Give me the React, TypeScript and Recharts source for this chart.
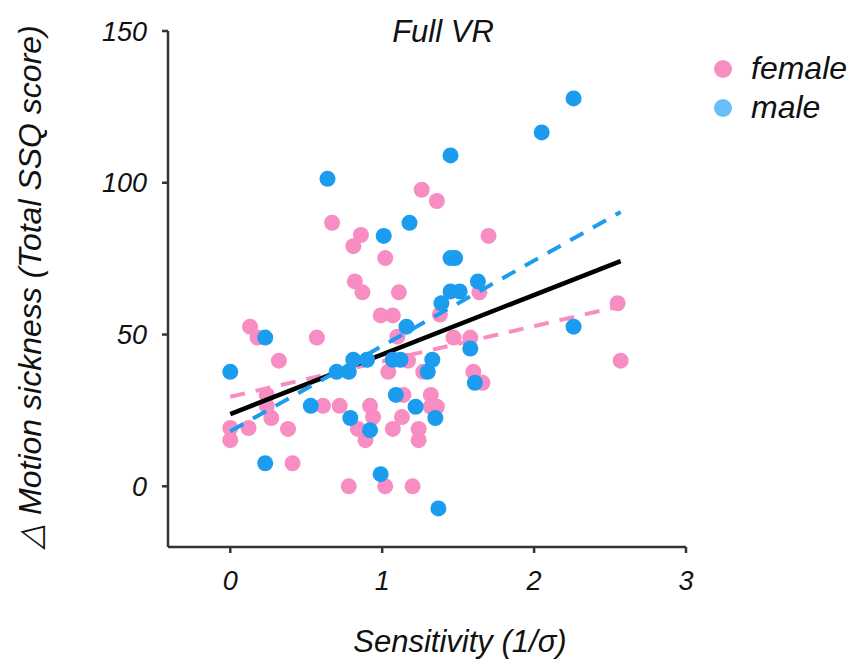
import React from 'react';
import {
  ScatterChart,
  Scatter,
  XAxis,
  YAxis,
} from 'recharts';

// female points (sensitivity, delta SSQ)
const femaleX = [
  0.0, 0.0, 0.12, 0.13, 0.18, 0.24, 0.24, 0.27, 0.32, 0.38, 0.41, 0.57, 0.61, 0.67, 0.72, 0.78,
  0.81, 0.86, 0.82, 0.87, 0.84, 0.89, 0.92, 0.94, 0.99, 1.07, 1.02, 1.02, 1.04, 1.07, 1.1, 1.11,
  1.14, 1.13, 1.17, 1.2, 1.24, 1.24, 1.26, 1.36, 1.27, 1.32, 1.32, 1.36, 1.38, 1.47, 1.58, 1.6,
  1.66, 1.64, 1.7, 2.55, 2.57,
];
const femaleY = [
  19.2, 15.2, 19.2, 52.6, 49.0, 30.1, 26.5, 22.5, 41.4, 18.9, 7.6, 49.0, 26.5, 86.8, 26.5, 0.0,
  79.1, 82.8, 67.5, 63.9, 18.9, 15.2, 26.5, 22.8, 56.3, 56.3, 75.2, 0.0, 37.7, 18.9, 49.3, 63.9,
  30.1, 22.8, 41.4, 0.0, 18.9, 15.2, 97.7, 94.0, 37.7, 30.1, 26.2, 26.2, 56.6, 49.0, 49.0, 37.7,
  34.1, 63.9, 82.5, 60.3, 41.4,
];

// male points
const maleX = [
  0.0, 0.23, 0.23, 0.53, 0.64, 0.7, 0.78, 0.81, 0.9, 0.79, 0.92, 0.99, 1.01, 1.18, 1.07, 1.12,
  1.09, 1.16, 1.22, 1.3, 1.33, 1.35, 1.37, 1.39, 1.45, 1.51, 1.45, 1.48, 1.45, 1.58, 1.61, 1.63,
  2.05, 2.26, 2.26,
];
const maleY = [
  37.7, 49.0, 7.6, 26.5, 101.3, 37.7, 37.7, 41.7, 41.7, 22.5, 18.5, 4.0, 82.5, 86.8, 41.7, 41.7,
  30.1, 52.6, 26.2, 37.7, 41.7, 22.5, -7.3, 60.3, 64.2, 64.2, 75.2, 75.2, 109.0, 45.4, 34.1, 67.5,
  116.6, 127.8, 52.6,
];

// regression fits (endpoints)
const fitX = [0, 2.57];
const fitAllY = [23.8, 74.2];
const fitFemaleY = [29.5, 59.4];
const fitMaleY = [18.1, 90.4];

const xTicks = [0, 1, 2, 3];
const yTicks = [0, 50, 100, 150];

const PINK = '#F78DC3';
const BLUE = '#1B9CEF';
const BLUE_LEGEND = '#66BFF6';
const AXIS = '#333';
const FONT = '"Liberation Sans", Arial, Helvetica, sans-serif';

const zip = (xs: number[], ys: number[]) => xs.map((x, i) => ({ x, y: ys[i] }));

const femaleData = zip(femaleX, femaleY);
const maleData = zip(maleX, maleY);
const fitAll = zip(fitX, fitAllY);
const fitFemale = zip(fitX, fitFemaleY);
const fitMale = zip(fitX, fitMaleY);

const dot = (color: string) => (p: any) => (
  <circle cx={p.cx} cy={p.cy} r={8} fill={color} />
);
const noDot = () => <g />;

const legendItems = [
  { name: 'female', color: PINK },
  { name: 'male', color: BLUE_LEGEND },
];

const tickStyle = { fill: '#111', fontSize: 27, fontStyle: 'italic', fontFamily: FONT };

const App: React.FC = () => {
  return (
    <div style={{ position: 'absolute', left: 0, top: 0, width: 853, height: 662, background: '#fff' }}>
      <div
        style={{
          position: 'absolute',
          left: 343,
          top: 14,
          width: 200,
          textAlign: 'center',
          fontFamily: FONT,
          fontStyle: 'italic',
          fontSize: 31,
          color: '#111',
        }}
      >
        Full VR
      </div>
      {/* legend */}
      <div
        style={{
          position: 'absolute',
          left: 714,
          top: 49,
          fontFamily: FONT,
          fontStyle: 'italic',
          fontSize: 32,
          color: '#111',
        }}
      >
        {legendItems.map((it) => (
          <div key={it.name} style={{ display: 'flex', alignItems: 'center', height: 39 }}>
            <span
              style={{
                display: 'inline-block',
                width: 18,
                height: 18,
                borderRadius: '50%',
                background: it.color,
                marginRight: 19,
              }}
            />
            <span>{it.name}</span>
          </div>
        ))}
      </div>
      <ScatterChart
        width={853}
        height={662}
        margin={{ top: 31, right: 167, bottom: 0, left: 0 }}
      >
        <XAxis
          type="number"
          dataKey="x"
          domain={[-0.41, 3]}
          ticks={xTicks}
          allowDataOverflow
          height={115}
          tick={tickStyle}
          tickSize={6}
          tickMargin={18}
          axisLine={{ stroke: AXIS, strokeWidth: 2.5 }}
          tickLine={{ stroke: AXIS, strokeWidth: 2.5 }}
          label={(props: any) => (
            <text
              x={460}
              y={652}
              textAnchor="middle"
              fill="#111"
              fontSize={31}
              fontStyle="italic"
              fontFamily={FONT}
            >
              Sensitivity (1/σ)
            </text>
          )}
        />
        <YAxis
          type="number"
          dataKey="y"
          domain={[-20, 150]}
          ticks={yTicks}
          allowDataOverflow
          width={168}
          tick={tickStyle}
          tickSize={6}
          tickMargin={15}
          axisLine={{ stroke: AXIS, strokeWidth: 2.5 }}
          tickLine={{ stroke: AXIS, strokeWidth: 2.5 }}
          label={(props: any) => (
            <text
              x={0}
              y={0}
              transform="translate(41, 287) rotate(-90)"
              textAnchor="middle"
              fill="#111"
              fontSize={32}
              fontStyle="italic"
              fontFamily={FONT}
            >
              △ Motion sickness (Total SSQ score)
            </text>
          )}
        />
        <Scatter
          name="female"
          data={femaleData}
          fill={PINK}
          shape={dot(PINK)}
          isAnimationActive={false}
        />
        <Scatter
          name="fit-female"
          data={fitFemale}
          line={{ stroke: PINK, strokeWidth: 4, strokeDasharray: '15 11' }}
          shape={noDot}
          legendType="none"
          isAnimationActive={false}
        />
        <Scatter
          name="fit-all"
          data={fitAll}
          line={{ stroke: '#000', strokeWidth: 4.5 }}
          shape={noDot}
          legendType="none"
          isAnimationActive={false}
        />
        <Scatter
          name="fit-male"
          data={fitMale}
          line={{ stroke: BLUE, strokeWidth: 4, strokeDasharray: '15 11' }}
          shape={noDot}
          legendType="none"
          isAnimationActive={false}
        />
        <Scatter
          name="male"
          data={maleData}
          fill={BLUE}
          shape={dot(BLUE)}
          isAnimationActive={false}
        />
      </ScatterChart>
    </div>
  );
};

export default App;
